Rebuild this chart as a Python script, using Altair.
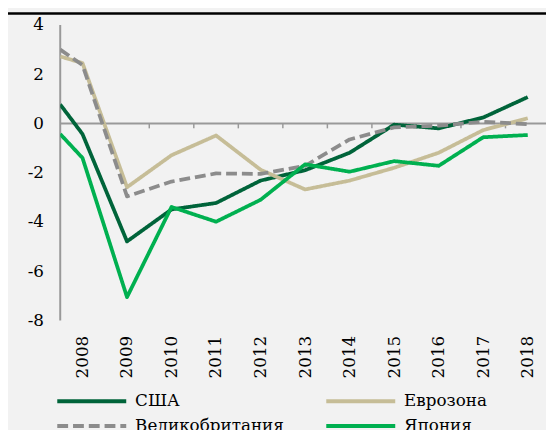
import altair as alt
import pandas as pd

# ---- data ----
years = [2007.5, 2008, 2009, 2010, 2011, 2012, 2013, 2014, 2015, 2016, 2017, 2018]
tick_years = [2008, 2009, 2010, 2011, 2012, 2013, 2014, 2015, 2016, 2017, 2018]
y_ticks = [-8, -6, -4, -2, 0, 2, 4]

usa = [0.77, -0.43, -4.79, -3.49, -3.23, -2.32, -1.90, -1.19, -0.05, -0.20, 0.24, 1.07]
euro = [2.72, 2.45, -2.59, -1.29, -0.49, -1.88, -2.68, -2.32, -1.80, -1.19, -0.27, 0.21]
uk = [3.00, 2.37, -2.96, -2.36, -2.03, -2.05, -1.72, -0.65, -0.16, -0.09, 0.07, -0.03]
japan = [-0.43, -1.40, -7.05, -3.39, -3.99, -3.10, -1.66, -1.96, -1.53, -1.72, -0.56, -0.47]

series = ["США", "Еврозона", "Великобритания", "Япония"]
colors = ["#00643a", "#c6bd97", "#8c8c8c", "#00b050"]
dashes = [[1, 0], [1, 0], [11, 5], [1, 0]]

rows = []
for name, vals in zip(series, [usa, euro, uk, japan]):
    for x, v in zip(years, vals):
        rows.append({"year": x, "value": v, "series": name})
df = pd.DataFrame(rows)

boundaries = pd.DataFrame({"x": [y + 0.5 for y in tick_years[:-1]]})
TICK_LEN = 0.2
Y_MIN, Y_MAX = min(y_ticks), max(y_ticks)
HEAD_ROOM = 0.48          # space above the axis for the header rule
HEAD_RULE = Y_MAX + 0.46

FONT = "DejaVu Serif"
AXIS_GRAY = "#999999"

xscale = alt.Scale(domain=[years[0], 2018.41], nice=False, zero=False)
yscale = alt.Scale(domain=[Y_MIN, Y_MAX + HEAD_ROOM], nice=False, zero=False)

xaxis = alt.Axis(
    values=tick_years, labelExpr="toString(datum.value)", labelAngle=270,
    domain=False, ticks=False, grid=False, labelPadding=15, title=None,
    labelFlush=False, labelOverlap=False, labelFont=FONT, labelFontSize=17,
    labelColor="black",
)
yaxis = alt.Axis(
    values=y_ticks, labelExpr="toString(datum.value)", domain=False,
    ticks=False, grid=False, labelPadding=17, title=None, labelFont=FONT,
    labelFontSize=17, labelColor="black",
)

legend_kw = dict(
    title=None, orient="none", legendX=-5, legendY=384, columns=2,
    direction="horizontal", clipHeight=20,
    symbolType="stroke", symbolSize=4900, symbolStrokeWidth=4,
    labelFont=FONT, labelFontSize=17, labelColor="black", labelOffset=7,
    columnPadding=41, rowPadding=5,
)

header_rule = alt.Chart(pd.DataFrame({"a": [0]})).mark_rule(
    color="black", strokeWidth=2.5
).encode(
    x=alt.value(-53), x2=alt.value(493),
    y=alt.YDatum(HEAD_RULE, scale=yscale, axis=yaxis),
)

y_domain_line = alt.Chart(pd.DataFrame({"a": [0]})).mark_rule(
    color=AXIS_GRAY, strokeWidth=2
).encode(
    x=alt.XDatum(years[0], scale=xscale, axis=xaxis),
    y=alt.YDatum(Y_MIN, scale=yscale, axis=yaxis),
    y2=alt.Y2Datum(Y_MAX),
)

zero_line = alt.Chart(pd.DataFrame({"y": [0]})).mark_rule(
    color=AXIS_GRAY, strokeWidth=2
).encode(y=alt.Y("y:Q", scale=yscale, axis=yaxis))

ticks = alt.Chart(boundaries).mark_rule(color=AXIS_GRAY, strokeWidth=1.5).encode(
    x=alt.X("x:Q", scale=xscale, axis=xaxis),
    y=alt.YDatum(0, scale=yscale, axis=yaxis),
    y2=alt.Y2Datum(-TICK_LEN),
)

lines = alt.Chart(df).mark_line(strokeWidth=3.8, strokeJoin="round", clip=True).encode(
    x=alt.X("year:Q", scale=xscale, axis=xaxis),
    y=alt.Y("value:Q", scale=yscale, axis=yaxis),
    color=alt.Color("series:N", scale=alt.Scale(domain=series, range=colors),
                    legend=alt.Legend(**legend_kw)),
    strokeDash=alt.StrokeDash("series:N", scale=alt.Scale(domain=series, range=dashes),
                              legend=alt.Legend(**legend_kw)),
)

chart = alt.layer(header_rule, y_domain_line, zero_line, ticks, lines).properties(
    width=493, height=312,
    padding={"left": 53, "top": 2, "right": 0, "bottom": 110},
    autosize=alt.AutoSizeParams(type="none"),
    background="#f2f2f2",
).configure_view(stroke=None)

chart.save("out.html", embed_options={"renderer": "svg", "actions": False})
